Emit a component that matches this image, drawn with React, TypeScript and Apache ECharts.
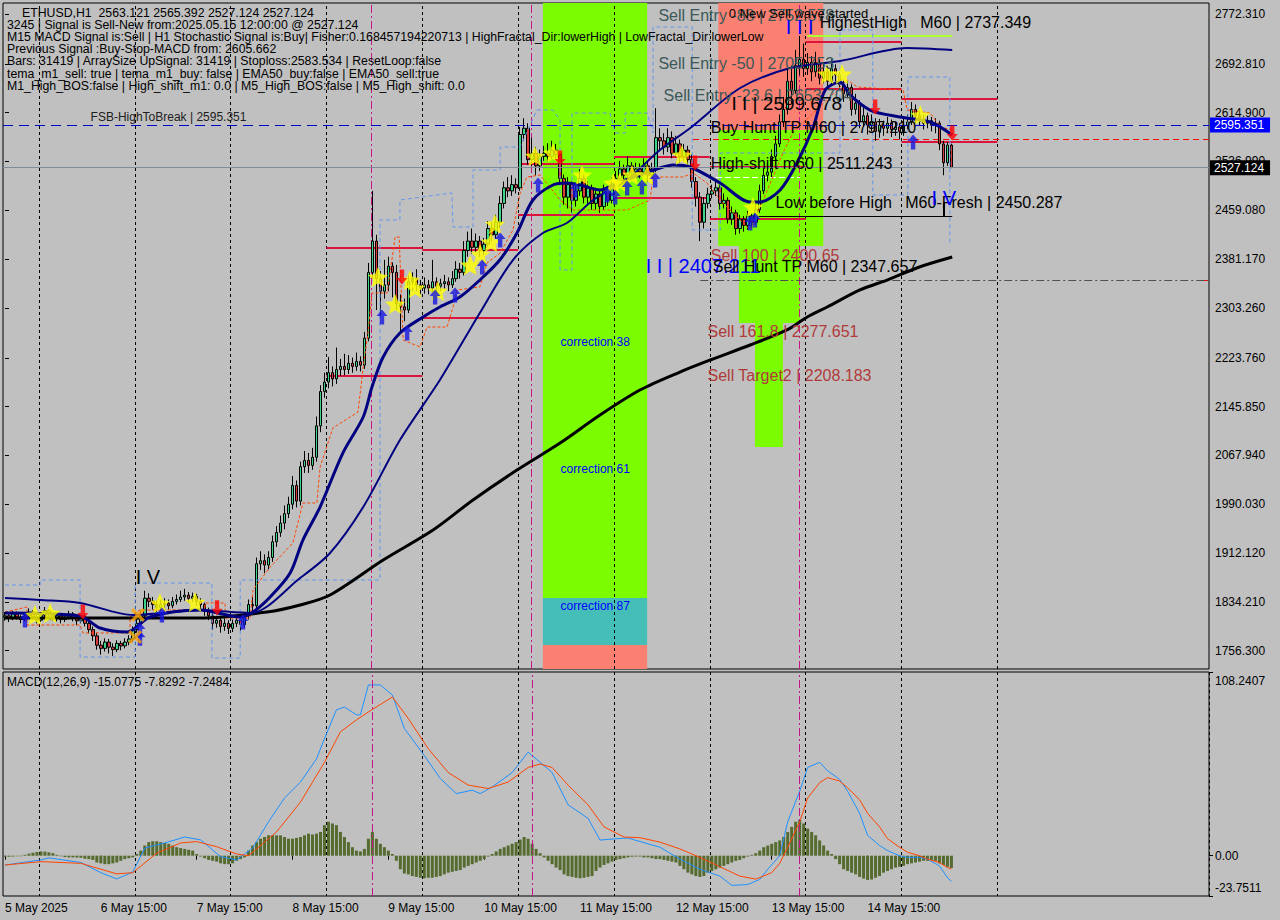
import React, { useEffect, useRef } from "react";
import * as echarts from "echarts";

// ---------- candle data (H1 bars from 5 May 2025 15:00) ----------
const firstOpen = 1810;
const closes = [
  1812, 1808, 1815, 1810, 1806, 1812, 1818, 1810, 1805, 1813,
  1820, 1815, 1808, 1812, 1806, 1810, 1815, 1808, 1804, 1810,
  1800, 1790, 1780, 1765, 1760, 1770, 1762, 1758, 1768, 1764,
  1770, 1775, 1790, 1800, 1812, 1840, 1835, 1830, 1825, 1830,
  1832, 1828, 1835, 1838, 1842, 1845, 1840, 1843, 1835, 1830,
  1820, 1812, 1800, 1805, 1795, 1800, 1792, 1800, 1805, 1798,
  1812, 1830, 1828, 1895, 1900, 1893, 1905, 1930, 1945, 1960,
  1975, 1990, 2020, 1995, 2050, 2060, 2052, 2065, 2115, 2170,
  2185, 2200, 2190, 2205, 2210, 2205, 2215, 2210, 2218, 2212,
  2255, 2360, 2410, 2350, 2330, 2340, 2370, 2360, 2310, 2305,
  2300, 2345, 2350, 2340, 2335, 2340, 2335, 2345, 2338, 2342,
  2345, 2340, 2350, 2365, 2360, 2395, 2410, 2400, 2410, 2395,
  2405, 2430, 2420, 2440, 2470, 2495, 2490, 2500, 2495, 2580,
  2590, 2540, 2550, 2530, 2545, 2550, 2545, 2555, 2548, 2510,
  2480, 2500, 2475, 2490, 2510, 2480, 2495, 2470, 2485, 2465,
  2490, 2475, 2500, 2510, 2525, 2515, 2530, 2520, 2525, 2520,
  2530, 2515, 2525, 2575, 2570, 2560, 2575, 2550, 2565, 2545,
  2555, 2540, 2505, 2480, 2440, 2470, 2485, 2490, 2495, 2470,
  2475, 2445, 2455, 2430, 2445, 2435, 2450, 2440, 2460, 2490,
  2515, 2520, 2545, 2565, 2600, 2620, 2665, 2650, 2690, 2700,
  2685, 2695, 2680, 2695, 2670, 2680, 2665, 2685, 2675, 2660,
  2645, 2655, 2620, 2630, 2600, 2610, 2595, 2600, 2585, 2595,
  2590, 2598, 2588, 2592, 2585, 2595, 2600, 2620, 2610, 2605,
  2598, 2602, 2595, 2598, 2565, 2535, 2563.121, 2527.124,
];
const highs = [
  1818, 1816, 1820, 1819, 1813, 1816, 1824, 1821, 1814, 1818,
  1826, 1823, 1818, 1817, 1815, 1814, 1820, 1818, 1812, 1815,
  1814, 1804, 1795, 1785, 1772, 1776, 1775, 1768, 1773, 1772,
  1776, 1781, 1795, 1808, 1820, 1852, 1848, 1842, 1836, 1838,
  1840, 1838, 1842, 1846, 1852, 1855, 1850, 1849, 1847, 1840,
  1833, 1825, 1816, 1812, 1810, 1808, 1805, 1806, 1812, 1810,
  1818, 1838, 1842, 1905, 1915, 1910, 1915, 1940, 1955, 1972,
  1988, 2002, 2035, 2028, 2058, 2075, 2072, 2080, 2130, 2180,
  2200, 2225, 2210, 2240, 2222, 2230, 2228, 2224, 2232, 2226,
  2265, 2375, 2490, 2420, 2362, 2380, 2385, 2376, 2372, 2325,
  2318, 2355, 2360, 2365, 2348, 2352, 2348, 2380, 2352, 2350,
  2356, 2352, 2362, 2378, 2375, 2410, 2425, 2430, 2422, 2418,
  2415, 2442, 2440, 2452, 2482, 2505, 2512, 2515, 2510, 2592,
  2606, 2598, 2575, 2560, 2556, 2562, 2566, 2570, 2565, 2552,
  2516, 2512, 2505, 2500, 2525, 2515, 2505, 2500, 2495, 2492,
  2500, 2496, 2512, 2522, 2538, 2532, 2545, 2536, 2535, 2534,
  2542, 2536, 2535, 2622, 2590, 2582, 2590, 2585, 2578, 2572,
  2565, 2562, 2548, 2512, 2488, 2480, 2495, 2500, 2505, 2500,
  2486, 2480, 2465, 2460, 2452, 2450, 2458, 2455, 2470, 2500,
  2528, 2535, 2556, 2578, 2612, 2640, 2685, 2690, 2715, 2737.349,
  2725, 2710, 2705, 2712, 2700, 2695, 2690, 2700, 2692, 2680,
  2668, 2665, 2660, 2645, 2635, 2625, 2615, 2612, 2606, 2605,
  2602, 2608, 2604, 2600, 2598, 2605, 2612, 2632, 2628, 2618,
  2612, 2610, 2608, 2606, 2602, 2570, 2568, 2565.392,
];
const lows = [
  1804, 1802, 1805, 1806, 1800, 1803, 1809, 1806, 1800, 1802,
  1810, 1811, 1804, 1803, 1800, 1802, 1806, 1803, 1797, 1800,
  1795, 1784, 1772, 1758, 1750, 1755, 1752, 1748, 1754, 1757,
  1760, 1765, 1770, 1785, 1795, 1808, 1826, 1822, 1818, 1820,
  1824, 1822, 1824, 1830, 1834, 1836, 1833, 1834, 1828, 1822,
  1812, 1805, 1790, 1793, 1785, 1788, 1783, 1786, 1794, 1788,
  1793, 1806, 1818, 1822, 1885, 1880, 1886, 1898, 1922, 1938,
  1950, 1968, 1982, 1985, 1988, 2040, 2040, 2045, 2058, 2105,
  2160, 2175, 2178, 2182, 2195, 2196, 2198, 2200, 2203, 2202,
  2206, 2250, 2350, 2300, 2290, 2318, 2330, 2320, 2300, 2265,
  2282, 2295, 2330, 2330, 2325, 2326, 2325, 2328, 2328, 2330,
  2334, 2330, 2335, 2345, 2350, 2355, 2385, 2390, 2392, 2385,
  2388, 2400, 2410, 2414, 2432, 2462, 2480, 2482, 2486, 2490,
  2570, 2532, 2530, 2515, 2522, 2538, 2536, 2540, 2540, 2500,
  2468, 2462, 2455, 2465, 2482, 2470, 2468, 2460, 2460, 2455,
  2460, 2466, 2470, 2492, 2505, 2505, 2510, 2512, 2514, 2510,
  2515, 2505, 2510, 2520, 2555, 2548, 2552, 2542, 2545, 2535,
  2538, 2530, 2495, 2465, 2410, 2430, 2462, 2478, 2482, 2460,
  2462, 2438, 2436, 2420, 2422, 2425, 2428, 2432, 2436, 2455,
  2485, 2505, 2512, 2540, 2560, 2592, 2612, 2630, 2645, 2675,
  2672, 2675, 2665, 2672, 2660, 2662, 2655, 2660, 2665, 2650,
  2632, 2638, 2610, 2612, 2590, 2592, 2580, 2585, 2570, 2575,
  2578, 2582, 2576, 2578, 2572, 2578, 2588, 2595, 2598, 2594,
  2588, 2590, 2585, 2582, 2555, 2515, 2530, 2527.124,
];

// ---------- MACD(12,26,9) ----------
const macdHist = [
  -0.6, -0.6, -0.5, -0.4, -0.3, 0.5, 1.2, 1.8, 2.2, 2.5, 2.4, 2.0, 1.5,
  0.5, -0.3, -0.8, -1, -1, -1.1, -1.2, -1.8, -2, -2.5,
  -4, -4.5, -5, -5, -4.5, -4, -3, -2, -1.5, -1, 1, 3,
  6, 8, 8.5, 8.5, 8, 7.5, 7, 6, 5, 4.5, 4, 3.5, 3,
  1, -0.5, -1.5, -2.5, -3, -3.5, -4.5, -5, -5, -4.5, -3, -2, -1,
  3, 6, 8, 10, 11, 12, 12, 12, 12, 11, 10, 10, 10.5, 11,
  12, 13, 12.5, 13, 14, 18, 20, 19, 18, 14, 11, 8, 5, 3, 2.5, 4,
  10, 14, 10, 7, 5, 3, 1, -3, -8, -10.5,
  -11, -12, -12.5, -13, -13.3, -13, -13, -12.5, -12, -11, -10, -9.5, -9, -8.5,
  -7, -6, -5, -4, -3, -2, -0.5, 1, 2.5, 4, 5, 6, 7, 8, 9.5, 11, 10,
  7, 4, 1.5, -1, -3, -5, -7, -8.5,
  -11, -12, -12.5, -13, -13.3, -13, -12.5, -12, -9, -7, -5.5, -4.5, -3.5,
  -2.5, -2, -1.5, -1, -0.6, -0.5, -0.5, -1, -1, -1.5, -2, -2, -2.5, -3, -3.5, -4,
  -6, -8, -10, -11, -12, -12.5, -12, -10, -9, -8, -7, -6, -5, -4, -3, -2.5,
  -1.5, -0.5, 0.5, 1.5, 3, 5, 6, 7, 8, 9, 11, 14, 17, 20, 21, 19,
  16, 14, 12, 9, 6, 3, 1, -2, -5, -8,
  -9, -10, -11, -12.5, -13.5, -14.3, -14, -13, -12, -10, -9, -8, -7, -6.5, -6,
  -5, -4.5, -4, -3.5, -3, -3, -2.5, -3, -4.5, -5.5, -6.5, -7.2484,
];
const macdMain = [
  [0, -5.5], [9, -2.5], [11, -1.3], [19, -4], [24, -10], [28, -13.7], [32, -9.6], [35, 4.5],
  [40, 7.5], [45, 11], [49, 9.3], [54, -0.6], [58, -2.5], [62, 4.5], [66, 20], [70, 34],
  [74, 43.4], [78, 57], [80, 69], [83, 86], [85, 87.6], [88, 83], [89, 83], [91, 100.6],
  [94, 100.6], [97, 94.7], [100, 75], [105, 59], [109, 45.5], [113, 36.6], [117, 38.6],
  [119, 36.6], [122, 40.5], [127, 49], [131, 61], [134, 55], [137, 49], [141, 30], [146, 22],
  [149, 9.2], [152, 9.8], [156, 10.4], [164, 5], [169, -2], [174, -8], [179, -12], [182, -17.5],
  [186, -17], [189, -14], [191, -8], [194, 0], [196, 20], [199, 38], [201, 52], [204, 55],
  [206, 50], [209, 45], [211, 38], [214, 25], [216, 12], [219, 6], [221, 3], [224, 0],
  [226, -1], [229, -1], [231, -2], [234, -6], [236, -13], [237, -15.0775],
];
const macdSignal = [
  [0, -5.5], [9, -3.5], [19, -4.5], [28, -10.7], [32, -10], [38, 1.5], [44, 7.5], [48, 8.3],
  [53, 5.3], [58, 1], [61, 0], [68, 14], [74, 31.6], [80, 55], [84, 73], [88, 80], [91, 84.7],
  [97, 93.5], [101, 80.8], [106, 63], [111, 49], [116, 41.6], [121, 39.6], [126, 43.4],
  [131, 52], [134, 54], [137, 52], [141, 41.6], [146, 30], [150, 17], [155, 11], [159, 10.6],
  [164, 8], [169, 4], [174, -1], [179, -6.5], [184, -12], [188, -13.8], [192, -10], [194, -4.5],
  [196, 5], [199, 20], [201, 34], [204, 43], [206, 46], [209, 44], [211, 40], [214, 33],
  [216, 25], [219, 17], [221, 10], [224, 5], [226, 2], [229, 0], [231, -2], [234, -4],
  [236, -7], [237, -7.8292],
];

// ---------- indicator lines: [bar, price] ----------
const emaFast = [
  [0, 1816.4], [18.8, 1811.6], [23.8, 1792.5], [30.6, 1786.1], [36.3, 1810.1], [48.8, 1821.2],
  [58.9, 1810.1], [62.1, 1818.0], [66.4, 1842.0], [71.4, 1880.3], [74.6, 1932.9], [78.9, 1985.6],
  [84.6, 2071.7], [89.7, 2129.2], [91.9, 2177.1], [94.7, 2225.0], [98.9, 2263.3], [104.7, 2288.8],
  [108.9, 2304.7], [113.9, 2320.7], [118.9, 2347.8], [123.9, 2379.7], [128.2, 2422.8],
  [132.2, 2475.5], [137.2, 2499.4], [140.7, 2502.6], [144.0, 2499.4], [149.0, 2491.5],
  [153.2, 2502.6], [159.0, 2515.4], [164.0, 2526.6], [167.3, 2531.4], [171.6, 2528.2],
  [179.1, 2502.6], [186.6, 2472.3], [189.1, 2472.3], [194.1, 2491.5], [198.3, 2534.5],
  [202.4, 2592.0], [205.4, 2651.0], [209.1, 2663.8], [211.6, 2643.1], [216.6, 2619.1],
  [224.1, 2607.9], [231.7, 2599.9], [237.2, 2579.2],
];
const emaSlow = [
  [0, 1840.4], [8.8, 1837.2], [18.8, 1832.4], [32.1, 1813.2], [48.8, 1821.2], [61.4, 1816.4],
  [73.9, 1872.3], [81.4, 1912.2], [89.7, 1985.6], [98.9, 2092.5], [108.9, 2188.3], [118.9, 2295.2],
  [127.2, 2379.7], [134.7, 2422.8], [140.7, 2438.8], [147.3, 2475.5], [155.7, 2507.4],
  [164.0, 2555.3], [171.6, 2590.4], [184.1, 2654.2], [196.6, 2686.1], [209.1, 2697.3],
  [225.8, 2718.1], [237.2, 2714.9],
];
const ema200 = [
  [0, 1808.5], [48.8, 1808.5], [65.6, 1818.0], [73.9, 1829.2], [81.4, 1845.2], [94.7, 1901.0],
  [107.2, 1948.9], [117.2, 1996.8], [128.2, 2044.6], [139.0, 2087.7], [149.0, 2132.4],
  [159.0, 2172.3], [169.0, 2201.0], [176.6, 2220.2], [186.6, 2244.1], [195.8, 2268.1],
  [200.9, 2288.8], [205.9, 2304.7], [214.1, 2331.9], [220.9, 2347.8], [229.0, 2368.6],
  [237.2, 2384.5],
];
const trailStop = [
  [0, 1818.1], [5.5, 1826.0], [5.5, 1797.3], [18.8, 1797.3], [19.5, 1784.6], [31.3, 1784.6],
  [31.3, 1810.1], [33.8, 1821.3], [50.1, 1821.3], [50.1, 1832.4], [55.1, 1832.4], [55.1, 1808.5],
  [61.4, 1808.5], [62.1, 1853.2], [66.4, 1889.9], [72.1, 1928.2], [74.6, 1992.0], [78.1, 1992.0],
  [78.9, 2049.4], [82.1, 2111.7], [88.4, 2137.2], [89.7, 2209.0], [90.9, 2263.3], [91.9, 2327.1],
  [95.7, 2327.1], [97.7, 2416.4], [98.7, 2416.4], [99.7, 2252.1], [103.9, 2240.9], [105.7, 2272.8],
  [110.7, 2272.8], [112.2, 2304.7], [113.2, 2331.9], [118.9, 2336.7], [120.7, 2375.0],
  [124.0, 2390.9], [127.2, 2427.6], [129.0, 2486.7], [130.7, 2512.2], [134.0, 2515.4],
  [139.0, 2475.5], [142.3, 2459.5], [155.8, 2459.5], [161.5, 2475.5], [162.3, 2512.2],
  [169.8, 2512.2], [172.3, 2518.6], [175.8, 2502.6], [179.1, 2475.5], [184.1, 2443.5],
  [186.6, 2427.6], [189.1, 2464.3], [192.3, 2512.2], [194.8, 2550.5], [197.3, 2582.4],
  [210.9, 2667.0], [213.4, 2655.8], [224.9, 2651.0], [225.9, 2619.1], [231.7, 2614.3],
  [234.2, 2592.0], [237.2, 2587.2],
];
const channel = [
  [0, 1861.1], [8.8, 1861.1], [8.8, 1869.1], [18.8, 1869.1], [18.8, 1746.2], [32.6, 1746.2],
  [32.6, 1864.3], [51.8, 1864.3], [51.8, 1744.6], [58.9, 1744.6], [58.9, 1869.1], [93.9, 1869.1],
  [93.9, 2443.6], [98.9, 2443.6], [98.9, 2475.5], [111.9, 2486.7], [112.2, 2432.4],
  [117.2, 2432.4], [117.2, 2523.4], [124.0, 2523.4], [124.0, 2560.1], [129.0, 2560.1],
  [133.2, 2619.1], [137.2, 2619.1], [139.0, 2603.1], [139.0, 2363.8], [142.0, 2363.8],
  [142.0, 2614.3], [151.5, 2614.3], [152.8, 2582.4], [155.3, 2582.4], [155.3, 2614.3],
  [160.8, 2614.3], [162.3, 2582.4], [162.3, 2751.6], [172.1, 2751.6], [172.1, 2427.6],
  [179.1, 2427.6], [179.1, 2550.5], [209.1, 2550.5], [209.1, 2746.8], [217.3, 2746.8],
  [217.3, 2483.5], [226.1, 2483.5], [226.1, 2671.8], [236.6, 2671.8], [236.6, 2403.7],
];

// ---------- signal marks: [bar, price] ----------
const stars = [
  [7.5, 1813.2], [11.3, 1816.4], [38.8, 1832.4], [47.6, 1834.0], [93.4, 2352.6], [97.7, 2309.5],
  [101.4, 2347.8], [102.7, 2335.1], [108.4, 2330.3], [116.5, 2371.8], [119.0, 2389.3],
  [121.7, 2408.5], [122.7, 2437.2], [132.7, 2545.7], [137.2, 2550.5], [144.5, 2515.4],
  [152.3, 2502.6], [154.0, 2504.2], [157.0, 2515.4], [160.8, 2515.4], [169.5, 2547.3],
  [187.3, 2464.3], [205.9, 2676.6], [209.6, 2676.6], [229.2, 2611.1],
];
const upArrows = [
  [5.0, 1805.3], [33.8, 1789.3], [33.8, 1776.0], [39.3, 1813.2], [59.6, 1802.1], [94.4, 2288.8],
  [100.7, 2263.3], [107.7, 2320.7], [112.7, 2323.9], [119.5, 2368.6], [124.0, 2411.7],
  [133.5, 2499.4], [142.8, 2491.5], [150.8, 2483.5], [152.8, 2480.3], [155.8, 2494.6],
  [159.5, 2496.2], [162.8, 2507.4], [186.6, 2438.8], [187.8, 2443.5], [227.4, 2568.1],
];
const downArrows = [
  [19.5, 1818.0], [53.1, 1824.8], [99.4, 2352.6], [139.0, 2542.5], [172.8, 2534.5],
  [217.9, 2623.9], [237.2, 2582.4],
];
const crosses = [[33.3, 1813.2], [32.6, 1778.1]];

// ---------- levels ----------
const dayLevels = [
  [80.5, 104.5, 2399.4], [80.5, 104.5, 2194.7], [104.5, 128.5, 2395.7], [104.5, 128.5, 2287.7],
  [128.5, 152.5, 2533.0], [128.5, 152.5, 2452.7], [152.5, 176.5, 2544.6], [152.5, 176.5, 2479.2],
  [176.5, 200.5, 2528.6], [176.5, 200.5, 2445.2], [200.5, 224.5, 2728.1], [200.5, 224.5, 2652.6],
  [224.5, 248.5, 2636.7], [224.5, 248.5, 2568.5],
];
const priceTicks = [
  2772.31, 2692.81, 2614.9, 2536.99, 2459.08, 2381.17, 2303.26, 2223.76, 2145.85, 2067.94,
  1990.03, 1912.12, 1834.21, 1756.3,
];
const fsbHigh = 2595.351;
const lastPrice = 2527.124;
const highestHigh = 2737.349;
const lowBeforeHigh = 2450.287;
const highShift = 2511.243;
const sellHuntTP = 2347.657;
const redLevel = 2572.4;
const separators = [91.7, 131.7, 198.8];

const PMIN = 1727.1;
const PMAX = 2789.86;
const NCAT = 302;
const LAST = 237;

const FONT = "Liberation Sans";

function buildCategories() {
  const out: string[] = [];
  for (let i = 0; i < NCAT; i++) {
    const hour = 15 + i;
    const d = 5 + Math.floor(hour / 24);
    const h = hour % 24;
    out.push(i === 0 ? "5 May 2025" : `${d} May ${String(h).padStart(2, "0")}:00`);
  }
  return out;
}

function buildOption() {
  const cats = buildCategories();
  const candles = closes.map((c, i) => {
    const o = i === 0 ? firstOpen : closes[i - 1];
    return [o, c, Math.min(lows[i], o, c), Math.max(highs[i], o, c)];
  });

  const zones: [number, number, number, number, string][] = [
    [134.7, 160.8, PMAX, 1840.4, "#7CFC00"],
    [134.7, 160.8, 1840.4, 1765.4, "#46BEB8"],
    [134.7, 160.8, 1765.4, PMIN, "#FA8072"],
    [178.6, 204.9, PMAX, 2587.2, "#FA8072"],
    [178.6, 204.9, 2587.2, 2402.1, "#7CFC00"],
    [183.8, 199.1, 2402.1, 2279.2, "#7CFC00"],
    [187.8, 194.8, 2279.2, 2081.4, "#7CFC00"],
  ];

  const seg = (x1: number, x2: number, y: number, ls: any) => [
    { coord: [x1, y], lineStyle: ls },
    { coord: [x2, y] },
  ];

  const annotations: { t: string; at: number[]; c: string; s: number }[] = [
    { t: "Sell Entry -88 | 2752.578", at: [163.5, 2770.7], c: "#3A5858", s: 16 },
    { t: "0 New Sell wave started", at: [181.1, 2773.9], c: "#000000", s: 13 },
    { t: "I I I", at: [195.4, 2751.6], c: "#0000FF", s: 20 },
    { t: "HighestHigh   M60 | 2737.349", at: [203.9, 2759.5], c: "#000000", s: 16 },
    { t: "Sell Entry -50 | 2705.753", at: [163.5, 2694.1], c: "#3A5858", s: 16 },
    { t: "Sell Entry -23.6 | 2653.704", at: [164.8, 2641.5], c: "#3A5858", s: 16 },
    { t: "I I | 2599.678", at: [181.8, 2628.7], c: "#000000", s: 19 },
    { t: "Buy Hunt TP M60 | 2797.210", at: [176.6, 2590.4], c: "#000000", s: 16 },
    { t: "High-shift m60 | 2511.243", at: [176.6, 2533.0], c: "#000000", s: 16 },
    { t: "Low before High   M60-Fresh | 2450.287", at: [192.8, 2472.3], c: "#000000", s: 16 },
    { t: "I V", at: [231.9, 2478.7], c: "#0000FF", s: 20 },
    { t: "Sell 100 | 2400.65", at: [176.6, 2387.7], c: "#B03A3A", s: 16 },
    { t: "I I | 2407.211", at: [160.3, 2370.2], c: "#0000FF", s: 20 },
    { t: "Sell Hunt TP M60 | 2347.657", at: [177.1, 2368.6], c: "#000000", s: 16 },
    { t: "Sell 161.8 | 2277.651", at: [175.8, 2264.9], c: "#B03A3A", s: 16 },
    { t: "Sell Target2 | 2208.183", at: [175.8, 2196.2], c: "#B03A3A", s: 16 },
    { t: "correction 38", at: [139.0, 2248.9], c: "#0000FF", s: 12 },
    { t: "correction 61", at: [139.0, 2046.2], c: "#0000FF", s: 12 },
    { t: "correction 87", at: [139.0, 1827.6], c: "#0000FF", s: 12 },
    { t: "FSB-HighToBreak | 2595.351", at: [21.3, 2607.9], c: "#202020", s: 12 },
    { t: "I V", at: [32.6, 1873.9], c: "#000000", s: 20 },
  ];

  const infoLines = [
    "ETHUSD,H1  2563.121 2565.392 2527.124 2527.124",
    "3245 | Signal is Sell-New from:2025.05.15 12:00:00 @ 2527.124",
    "M15 MACD Signal is:Sell | H1 Stochastic Signal is:Buy| Fisher:0.168457194220713 | HighFractal_Dir:lowerHigh | LowFractal_Dir:lowerLow",
    "Previous Signal :Buy-Stop-MACD from: 2605.662",
    "Bars: 31419 | ArraySize UpSignal: 31419 | Stoploss:2583.534 | ResetLoop:false",
    "tema_m1_sell: true | tema_m1_buy: false | EMA50_buy:false | EMA50_sell:true",
    "M1_High_BOS:false | High_shift_m1: 0.0 | M5_High_BOS:false | M5_High_shift: 0.0",
  ];

  const starPath =
    "path://M10,0 L12.9,6.9 L20,7.6 L14.6,12.3 L16.2,19.3 L10,15.6 L3.8,19.3 L5.4,12.3 L0,7.6 L7.1,6.9 Z";
  const arrowPath = "path://M5,0 L10,6 L7,6 L7,14 L3,14 L3,6 L0,6 Z";
  const crossPath =
    "path://M0,2 L2,0 L6,4 L10,0 L12,2 L8,6 L12,10 L10,12 L6,8 L2,12 L0,10 L4,6 Z";

  const labelInterval = (idx: number) => idx % 24 === 0 && idx <= LAST;
  const dashBlack = { color: "#000", type: [3, 3] as any, width: 1 };
  const magenta = { color: "#C71585", type: [8, 3, 2, 3] as any, width: 1 };

  return {
    animation: false,
    backgroundColor: "#C0C0C0",
    textStyle: { fontFamily: FONT },
    grid: [
      { left: 3, right: 71, top: 3, height: 666, show: true, borderColor: "#000", borderWidth: 1 },
      { left: 3, right: 71, top: 672, height: 224, show: true, borderColor: "#000", borderWidth: 1 },
    ],
    xAxis: [
      {
        type: "category", gridIndex: 0, data: cats, boundaryGap: true,
        axisLabel: { show: false }, axisTick: { show: false }, axisLine: { show: false },
        splitLine: { show: false },
      },
      { type: "value", gridIndex: 0, min: -0.5, max: NCAT - 0.5, show: false },
      {
        type: "category", gridIndex: 1, data: cats, boundaryGap: true,
        axisLine: { show: false },
        axisTick: { show: true, interval: labelInterval, alignWithLabel: true, length: 4, lineStyle: { color: "#000" } },
        axisLabel: {
          interval: labelInterval, align: "left", color: "#000", fontSize: 12, margin: 6,
          fontFamily: FONT,
        },
        splitLine: { show: true, interval: (idx: number) => idx % 24 === 9 && idx <= 249, lineStyle: dashBlack },
      },
    ],
    yAxis: [
      {
        type: "value", gridIndex: 0, position: "right", min: PMIN, max: PMAX,
        splitLine: { show: false }, axisLine: { show: false },
        axisTick: { show: true, customValues: priceTicks, length: 4, lineStyle: { color: "#000" } },
        axisLabel: {
          customValues: priceTicks, color: "#000", fontSize: 12, margin: 6, fontFamily: FONT,
          formatter: (v: number) => v.toFixed(3),
        },
      },
      {
        type: "value", gridIndex: 1, position: "right", min: -23.7511, max: 108.2407,
        splitLine: { show: false }, axisLine: { show: false },
        axisTick: { show: true, customValues: [108.2407, 0, -23.7511], length: 4, lineStyle: { color: "#000" } },
        axisLabel: {
          customValues: [108.2407, 0, -23.7511], color: "#000", fontSize: 12, margin: 6, fontFamily: FONT,
          formatter: (v: number) => (v > 100 ? "{t|108.2407}" : v < -20 ? "{b|-23.7511}" : "0.00"),
          rich: {
            t: { padding: [17, 0, 0, 0], fontSize: 12, color: "#000", fontFamily: FONT },
            b: { padding: [0, 0, 16, 0], fontSize: 12, color: "#000", fontFamily: FONT },
          },
        },
      },
      {
        type: "value", gridIndex: 0, position: "right", min: PMIN, max: PMAX,
        splitLine: { show: false }, axisLine: { show: false }, axisLabel: { show: false },
        axisTick: { show: true, inside: true, customValues: [redLevel, sellHuntTP], length: 5, lineStyle: { color: "#FF0000" } },
      },
      {
        type: "value", gridIndex: 0, position: "right", min: PMIN, max: PMAX,
        splitLine: { show: false }, axisLine: { show: false }, axisLabel: { show: false },
        axisTick: { show: true, inside: true, customValues: [fsbHigh], length: 5, lineStyle: { color: "#0000FF" } },
      },
    ],
    graphic: [
      ...infoLines.map((t, i) => ({
        type: "text", x: i === 0 ? 22 : 7, y: 13 + i * 12.1, z: 100,
        style: { text: t, fill: "#000", font: `12.3px "${FONT}"`, verticalAlign: "middle" },
      })),
      {
        type: "text", x: 7, y: 682, z: 100,
        style: { text: "MACD(12,26,9) -15.0775 -7.8292 -7.2484", fill: "#000", font: `12px "${FONT}"`, verticalAlign: "middle" },
      },
    ],
    series: [
      // zones
      {
        type: "line", xAxisIndex: 1, yAxisIndex: 0, data: [], silent: true,
        markArea: {
          silent: true, z: 1,
          data: zones.map(([x1, x2, y1, y2, c]) => [
            { coord: [x1, y1], itemStyle: { color: c, opacity: 1 } },
            { coord: [x2, y2] },
          ]),
        },
      },
      // grid lines, separators, level segments
      {
        type: "line", xAxisIndex: 1, yAxisIndex: 0, data: [], silent: true,
        markLine: {
          silent: true, z: 3, symbol: ["none", "none"], label: { show: false },
          data: [
            ...Array.from({ length: 11 }, (_, k) => ({ xAxis: 8.5 + 24 * k, lineStyle: dashBlack })),
            ...separators.map((x) => ({ xAxis: x, lineStyle: magenta })),
            ...dayLevels.map(([x1, x2, y]) => seg(x1, x2, y, { color: "#DC143C", width: 2, type: "solid" })),
            seg(200.9, 237.2, highestHigh, { color: "#ADFF2F", width: 2, type: "solid" }),
            seg(187.8, 237.2, lowBeforeHigh, { color: "#000", width: 1, type: "solid" }),
            seg(175.8, 199.1, highShift, { color: "#FFFFFF", width: 1, type: [6, 3] }),
            seg(172.3, NCAT - 0.5, redLevel, { color: "#FF0000", width: 1, type: [6, 4] }),
            seg(174.1, NCAT - 0.5, sellHuntTP, { color: "#505050", width: 1, type: [8, 3, 2, 3] }),
            [
              { coord: [235.2, 2448.4], lineStyle: { color: "#000", width: 2, type: "solid" } },
              { coord: [235.2, 2470.7] },
            ],
          ],
        },
      },
      // price label lines
      {
        type: "line", xAxisIndex: 1, yAxisIndex: 0, data: [], silent: true,
        markLine: {
          silent: true, z: 8, symbol: ["none", "none"],
          data: [
            {
              yAxis: fsbHigh, lineStyle: { color: "#0000CD", width: 1, type: [10, 6] },
              label: {
                show: true, position: "end", distance: 1, formatter: fsbHigh.toFixed(3),
                backgroundColor: "#0000FF", color: "#FFFFFF", padding: [2, 6, 1, 4], fontSize: 12, fontFamily: FONT,
              },
            },
            {
              yAxis: lastPrice, lineStyle: { color: "#7F8C9A", width: 1, type: "solid" },
              label: {
                show: true, position: "end", distance: 1, formatter: lastPrice.toFixed(3),
                backgroundColor: "#000000", color: "#FFFFFF", padding: [2, 6, 1, 4], fontSize: 12, fontFamily: FONT,
              },
            },
          ],
        },
      },
      {
        name: "ETHUSD", type: "candlestick", xAxisIndex: 0, yAxisIndex: 0, z: 6,
        data: candles, barWidth: 3, silent: true,
        itemStyle: { color: "#3ED58A", color0: "#D93A3A", borderColor: "#000", borderColor0: "#000", borderWidth: 1 },
      },
      {
        type: "line", xAxisIndex: 1, yAxisIndex: 0, z: 7, data: channel, symbol: "none", silent: true,
        lineStyle: { color: "#6495ED", width: 1, type: [4, 3] },
      },
      {
        type: "line", xAxisIndex: 1, yAxisIndex: 0, z: 7, data: trailStop, symbol: "none", silent: true,
        lineStyle: { color: "#FF4500", width: 1, type: [3, 2] },
      },
      {
        type: "line", xAxisIndex: 1, yAxisIndex: 0, z: 7, data: ema200, symbol: "none", smooth: 0.3, silent: true,
        lineStyle: { color: "#000000", width: 3 },
      },
      {
        type: "line", xAxisIndex: 1, yAxisIndex: 0, z: 7, data: emaSlow, symbol: "none", smooth: 0.3, silent: true,
        lineStyle: { color: "#000080", width: 2 },
      },
      {
        type: "line", xAxisIndex: 1, yAxisIndex: 0, z: 7, data: emaFast, symbol: "none", smooth: 0.3, silent: true,
        lineStyle: { color: "#000080", width: 3 },
      },
      {
        type: "scatter", xAxisIndex: 1, yAxisIndex: 0, z: 9, data: stars, symbol: starPath, symbolSize: 20, silent: true,
        itemStyle: { color: "#FFFF00" },
      },
      {
        type: "scatter", xAxisIndex: 1, yAxisIndex: 0, z: 9, data: upArrows, symbol: arrowPath, symbolSize: [11, 15], silent: true,
        itemStyle: { color: "#1515E0" },
      },
      {
        type: "scatter", xAxisIndex: 1, yAxisIndex: 0, z: 9, data: downArrows, symbol: arrowPath, symbolRotate: 180,
        symbolSize: [11, 15], silent: true, itemStyle: { color: "#FF0000" },
      },
      {
        type: "scatter", xAxisIndex: 1, yAxisIndex: 0, z: 9, data: crosses, symbol: crossPath, symbolSize: 14, silent: true,
        itemStyle: { color: "#FFA500" },
      },
      {
        type: "scatter", xAxisIndex: 1, yAxisIndex: 0, z: 12, silent: true, symbolSize: 1,
        itemStyle: { color: "rgba(0,0,0,0)" },
        labelLayout: { hideOverlap: false },
        data: annotations.map((a) => ({
          value: a.at,
          label: {
            show: true, position: "right", distance: 0, formatter: a.t, color: a.c, fontSize: a.s,
            fontFamily: FONT, opacity: 1,
          },
        })),
      },
      // MACD pane
      {
        type: "bar", xAxisIndex: 2, yAxisIndex: 1, data: macdHist, barWidth: 3, silent: true,
        itemStyle: { color: "#556B2F" },
        markLine: {
          silent: true, z: 6, symbol: ["none", "none"], label: { show: false },
          data: [92, 132, 199].map((x) => ({ xAxis: x, lineStyle: magenta })),
        },
      },
      {
        type: "line", xAxisIndex: 2, yAxisIndex: 1, data: macdMain, symbol: "none", silent: true,
        lineStyle: { color: "#1E90FF", width: 1 },
      },
      {
        type: "line", xAxisIndex: 2, yAxisIndex: 1, data: macdSignal, symbol: "none", silent: true,
        lineStyle: { color: "#FF4500", width: 1 },
      },
    ],
  };
}

export default function App() {
  const ref = useRef<HTMLDivElement>(null);
  useEffect(() => {
    if (!ref.current) return;
    const chart = echarts.init(ref.current, null, { renderer: "svg" });
    chart.setOption(buildOption() as any);
    return () => chart.dispose();
  }, []);
  return (
    <div
      ref={ref}
      style={{ position: "absolute", left: 0, top: 0, width: 1280, height: 920, background: "#C0C0C0" }}
    />
  );
}
